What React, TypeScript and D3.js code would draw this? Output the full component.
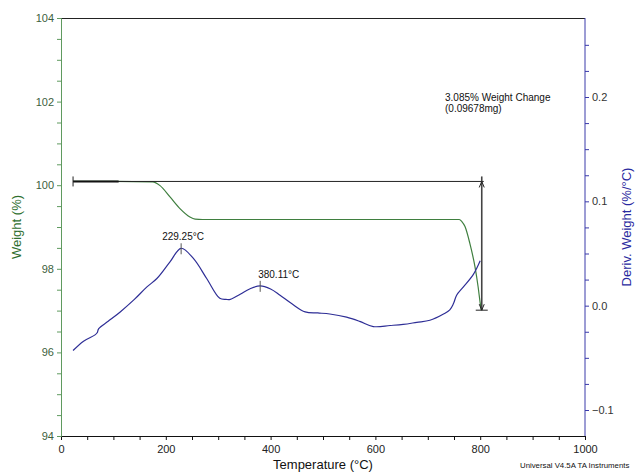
import { useRef, useEffect } from "react";
import * as d3 from "d3";

// weight curve (%)
const weightTemp = [23, 100, 175, 189, 208, 227, 246, 256, 270, 400, 600, 760, 765, 771, 780, 790, 796, 800, 802];
const weightVals = [100.09, 100.09, 100.08, 99.99, 99.72, 99.44, 99.24, 99.19, 99.18, 99.18, 99.18, 99.18, 99.13, 99.01, 98.62, 98.05, 97.57, 97.18, 97.01];

// derivative weight (%/°C)
const derivTemp = [23, 43, 65, 69, 72, 90, 113, 140, 164, 183, 208, 229.25, 253, 278, 303, 315, 323, 342, 360, 380.11, 400, 418, 440, 466, 490, 513, 545, 570, 596, 628, 653, 679, 704, 730, 742, 749, 755, 768, 787, 800];
const derivVals = [-0.043, -0.034, -0.028, -0.026, -0.022, -0.015, -0.006, 0.006, 0.018, 0.026, 0.042, 0.055, 0.045, 0.026, 0.007, 0.006, 0.006, 0.011, 0.016, 0.019, 0.016, 0.010, 0.002, -0.006, -0.007, -0.008, -0.011, -0.015, -0.020, -0.019, -0.018, -0.016, -0.014, -0.008, -0.004, 0.002, 0.010, 0.018, 0.030, 0.043];

const peaks = [{ t: 229.25, label: "229.25°C" }, { t: 380.11, label: "380.11°C" }];
const xTicks = [0, 200, 400, 600, 800, 1000];
const wTicks = [94, 96, 98, 100, 102, 104];
const dTicks = [-0.1, 0.0, 0.1, 0.2];
const changeStart = { t: 23, w: 100.09 };
const changeEnd = { t: 802, w: 97.01 };
const changeText = ["3.085% Weight Change", "(0.09678mg)"];

const FONT = "'Liberation Sans', Arial, sans-serif";
const GREEN = "#3f7f3f", BLUE = "#2e2e96";

export default function App() {
  const ref = useRef<SVGSVGElement>(null);

  useEffect(() => {
    if (!ref.current) return;
    const svg = d3.select(ref.current); svg.selectAll("*").remove();
    const left = 61, right = 585, top = 18, bottom = 436;
    const x = d3.scaleLinear().domain([0, 1000]).range([left, right]);
    const yW = d3.scaleLinear().domain([94, 104]).range([bottom, top]);
    const yD = d3.scaleLinear().domain([-0.1, 0.2]).range([410, 97]);

    // top frame
    svg.append("line").attr("x1", left).attr("x2", right).attr("y1", top + 0.5).attr("y2", top + 0.5).attr("stroke", "#222").attr("stroke-width", 1);

    // bottom axis
    const xMinor = d3.range(0, 1001, 50);
    const gx = svg.append("g").attr("transform", `translate(0,${bottom})`)
      .call(d3.axisBottom(x).tickValues(xMinor).tickSize(4).tickFormat(d => xTicks.includes(+d) ? String(d) : ""));
    gx.select(".domain").attr("stroke", "#111");
    gx.selectAll(".tick line").attr("stroke", "#111");
    gx.selectAll("text").attr("fill", "#222").attr("font-size", "11px").attr("font-family", FONT).attr("dy", "0.9em");

    // left axis
    const gl = svg.append("g").attr("transform", `translate(${left},0)`)
      .call(d3.axisLeft(yW).tickValues(d3.range(94, 104.01, 0.5)).tickSize(4).tickFormat(d => wTicks.includes(+d) ? String(d) : ""));
    gl.select(".domain").attr("stroke", "#5f9a5f");
    gl.selectAll(".tick line").attr("stroke", "#5f9a5f");
    gl.selectAll("text").attr("fill", "#3d5f3d").attr("font-size", "11px").attr("font-family", FONT);

    // right axis
    const dMinor = d3.range(-0.1, 0.2501, 0.025).map(v => Math.round(v * 1000) / 1000);
    const gr = svg.append("g").attr("transform", `translate(${right},0)`)
      .call(d3.axisRight(yD).tickValues(dMinor).tickSize(4)
        .tickFormat(d => dTicks.some(t => Math.abs(t - +d) < 1e-6) ? d3.format(".1f")(+d) : ""));
    gr.select(".domain").attr("d", `M0,${top}V${bottom}`).attr("stroke", "#3a3aaa");
    gr.selectAll(".tick line").attr("stroke", "#3a3aaa");
    gr.selectAll("text").attr("fill", "#333").attr("font-size", "11px").attr("font-family", FONT);

    // titles
    svg.append("text").attr("transform", `translate(21,${(top + bottom) / 2}) rotate(-90)`).attr("text-anchor", "middle")
      .attr("fill", "#2f6f2f").attr("font-size", "13px").attr("font-family", FONT).text("Weight (%)");
    svg.append("text").attr("transform", `translate(631,${(top + bottom) / 2}) rotate(-90)`).attr("text-anchor", "middle")
      .attr("fill", "#2a2aa0").attr("font-size", "13px").attr("font-family", FONT).text("Deriv. Weight (%/°C)");
    svg.append("text").attr("x", 323).attr("y", 469).attr("text-anchor", "middle")
      .attr("fill", "#111").attr("font-size", "13px").attr("font-family", FONT).text("Temperature (°C)");
    svg.append("text").attr("x", 520).attr("y", 468).attr("fill", "#111").attr("font-size", "7.8px")
      .attr("font-family", FONT).text("Universal V4.5A TA Instruments");

    // curves
    const wData = weightTemp.map((t, i) => [t, weightVals[i]] as [number, number]);
    const dData = derivTemp.map((t, i) => [t, derivVals[i]] as [number, number]);
    const wLine = d3.line<[number, number]>().x(d => x(d[0])).y(d => yW(d[1])).curve(d3.curveMonotoneX);
    const dLine = d3.line<[number, number]>().x(d => x(d[0])).y(d => yD(d[1])).curve(d3.curveCatmullRom.alpha(0.5));
    svg.append("path").datum(wData).attr("fill", "none").attr("stroke", GREEN).attr("stroke-width", 1.2).attr("d", wLine);
    svg.append("path").datum(dData).attr("fill", "none").attr("stroke", BLUE).attr("stroke-width", 1.2).attr("d", dLine);

    // weight change annotation
    const ax = x(changeEnd.t) + 0.5, ay1 = yW(changeStart.w), ay2 = yW(changeEnd.w);
    svg.append("line").attr("x1", x(changeStart.t)).attr("x2", ax + 2).attr("y1", ay1).attr("y2", ay1).attr("stroke", "#222").attr("stroke-width", 1);
    svg.append("line").attr("x1", x(changeStart.t)).attr("x2", x(110)).attr("y1", ay1).attr("y2", ay1).attr("stroke", "#111").attr("stroke-width", 2);
    svg.append("line").attr("x1", x(changeStart.t)).attr("x2", x(changeStart.t)).attr("y1", ay1 - 5).attr("y2", ay1 + 5).attr("stroke", "#222");
    svg.append("line").attr("x1", ax).attr("x2", ax).attr("y1", ay1 - 5).attr("y2", ay2).attr("stroke", "#444").attr("stroke-width", 1.6);
    svg.append("line").attr("x1", ax - 6).attr("x2", ax + 6).attr("y1", ay2).attr("y2", ay2).attr("stroke", "#222");
    svg.append("path").attr("d", `M${ax - 2.5},${ay1 + 6}L${ax},${ay1}L${ax + 2.5},${ay1 + 6}`).attr("fill", "none").attr("stroke", "#222");
    svg.append("path").attr("d", `M${ax - 2.5},${ay2 - 6}L${ax},${ay2}L${ax + 2.5},${ay2 - 6}`).attr("fill", "none").attr("stroke", "#222");
    changeText.forEach((s, i) => {
      svg.append("text").attr("x", 445).attr("y", 101 + i * 11).attr("fill", "#111").attr("font-size", "10px")
        .attr("font-family", FONT).text(s);
    });

    // peak markers
    peaks.forEach(p => {
      const i = derivTemp.indexOf(p.t);
      const px = x(p.t), py = yD(derivVals[i]);
      svg.append("line").attr("x1", px).attr("x2", px).attr("y1", py - 5).attr("y2", py + 6).attr("stroke", "#555").attr("stroke-width", 1);
      svg.append("text").attr("x", px - (p.t < 300 ? 19 : 2)).attr("y", py - 8).attr("fill", "#111").attr("font-size", "10px")
        .attr("font-family", FONT).text(p.label);
    });
  }, []);

  return (
    <svg ref={ref} width={638} height={473} style={{ position: "absolute", left: 0, top: 0, background: "#fff" }} />
  );
}
